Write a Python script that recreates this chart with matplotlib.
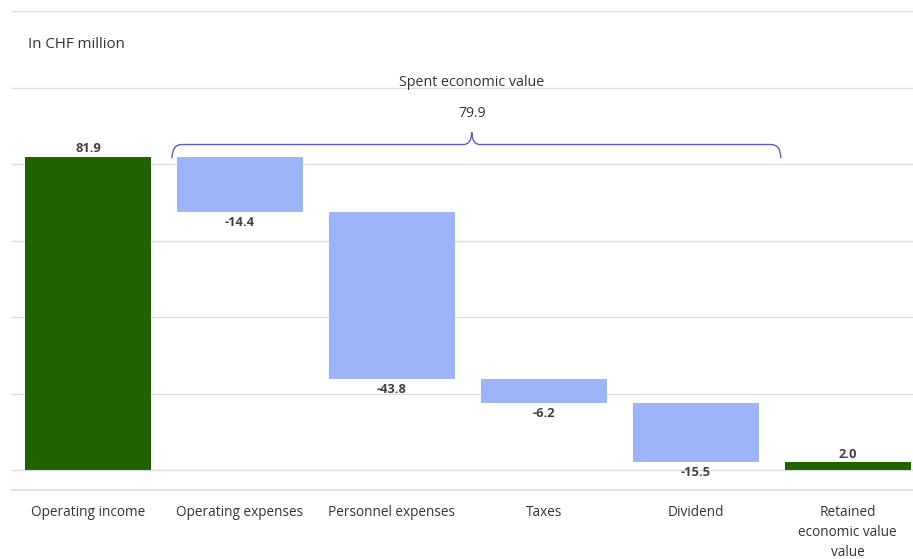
import matplotlib.pyplot as plt
import numpy as np
from matplotlib.path import Path
from matplotlib.patches import PathPatch

plt.rcParams['font.family'] = ['Open Sans', 'DejaVu Sans']

# Data
categories = ['Operating income', 'Operating expenses', 'Personnel expenses',
              'Taxes', 'Dividend', 'Retained\neconomic value\nvalue']
changes = [81.9, -14.4, -43.8, -6.2, -15.5]
retained = 2.0
spent_total = 79.9

green = '#1f6200'
blue = '#9db4f9'
txt = '#404040'

fig = plt.figure(figsize=(9.13, 5.59), dpi=100)
ax = fig.add_axes([12 / 913, 1 - 490 / 559, 1 - 12 / 913, (490 - 11) / 559])

# running totals for the waterfall
bottoms, heights = [], []
total = 0.0
for v in changes:
    if v >= 0:
        bottoms.append(total)
        heights.append(v)
    else:
        bottoms.append(total + v)
        heights.append(-v)
    total += v
bottoms.append(0)
heights.append(retained)

x = np.arange(len(categories))
colors = [green] + [blue] * (len(changes) - 1) + [green]
w = 0.83
ax.bar(x, heights, bottom=bottoms, width=w, color=colors, zorder=3)

# value labels
for i, v in enumerate(changes + [retained]):
    if v >= 0:
        ax.text(x[i], bottoms[i] + heights[i] + 0.4, f'{v:.1f}', ha='center', va='bottom',
                fontsize=9.3, fontweight='bold', color=txt)
    else:
        ax.text(x[i], bottoms[i] - 1.0, f'{v:.1f}', ha='center', va='top',
                fontsize=9.3, fontweight='bold', color=txt)

# gridlines
for g in range(0, 121, 20):
    ax.axhline(g, color='#dcdcdc', lw=1, zorder=1)

ax.set_xlim(-0.5, 5.43)
ax.set_ylim(-5.2, 120)
for s in ['top', 'right', 'left']:
    ax.spines[s].set_visible(False)
ax.spines['bottom'].set_color('#dcdcdc')
ax.spines['bottom'].set_linewidth(1.2)
ax.set_yticks([])
ax.set_xticks(x)
ax.set_xticklabels(categories, fontsize=9.8, color='#333333', linespacing=1.45)
ax.tick_params(axis='x', length=0, pad=11)

# brace over the spent items
x0, x1, xm = 0.553, 4.56, 2.526
yb, yh, yp = 81.5, 85.1, 88.3
dx = 10 / 152
verts = [(x0, yb), (x0, yh), (x0 + dx, yh),
         (xm - 8 / 152, yh), (xm - 0.5 / 152, yh), (xm, yp),
         (xm + 0.5 / 152, yh), (xm + 8 / 152, yh),
         (x1 - dx, yh), (x1, yh), (x1, yb)]
codes = [Path.MOVETO, Path.CURVE3, Path.CURVE3,
         Path.LINETO, Path.CURVE3, Path.CURVE3,
         Path.CURVE3, Path.CURVE3,
         Path.LINETO, Path.CURVE3, Path.CURVE3]
ax.add_patch(PathPatch(Path(verts, codes), fill=False, edgecolor='#5b5fb8', lw=1, zorder=4))

ax.text(xm, 93.3, f'{spent_total:.1f}', ha='center', va='center', fontsize=10, color='#333333')
ax.text(xm, 101.3, 'Spent economic value', ha='center', va='center', fontsize=10.3, color='#333333')
ax.text(-0.395, 111.2, 'In CHF million', ha='left', va='center', fontsize=10.8, color='#333333')

fig.savefig('out.png', dpi=100)
